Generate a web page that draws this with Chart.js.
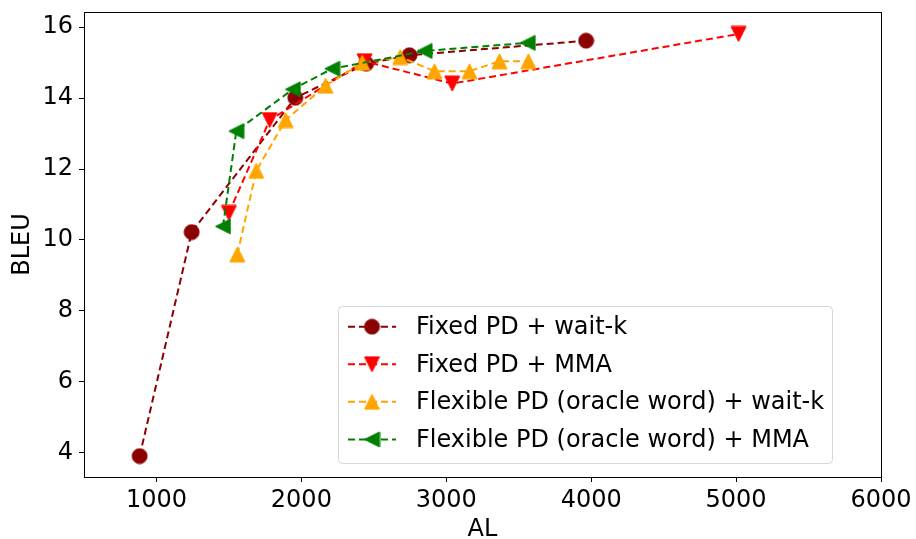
<!DOCTYPE html>
<html>
<head>
<meta charset="utf-8">
<script src="https://cdn.jsdelivr.net/npm/chart.js@4/dist/chart.umd.min.js"></script>
<style>
  html, body { margin: 0; padding: 0; background: #fff; }
  #wrap { width: 916px; height: 539px; position: relative; }
</style>
</head>
<body>
<div id="wrap"><canvas id="c" width="916" height="539"></canvas></div>
<script>
// ---- data ----
const seriesNames = [
  "Fixed PD + wait-k",
  "Fixed PD + MMA",
  "Flexible PD (oracle word) + wait-k",
  "Flexible PD (oracle word) + MMA"
];
const fixedWaitkAL   = [884, 1243, 1958, 2447, 2746, 3965];
const fixedWaitkBLEU = [3.90, 10.22, 14.01, 14.97, 15.21, 15.62];
const fixedMmaAL     = [1500, 1781, 2436, 3041, 5017];
const fixedMmaBLEU   = [10.76, 13.38, 15.04, 14.41, 15.81];
const flexWaitkAL    = [1558, 1689, 1891, 2167, 2420, 2682, 2919, 3160, 3367, 3567];
const flexWaitkBLEU  = [9.59, 11.95, 13.38, 14.35, 15.00, 15.16, 14.76, 14.76, 15.04, 15.04];
const flexMmaAL      = [1459, 1551, 1941, 2213, 2850, 3562];
const flexMmaBLEU    = [10.38, 13.07, 14.25, 14.83, 15.33, 15.56];
const xTicks = [1000, 2000, 3000, 4000, 5000, 6000];
const yTicks = [4, 6, 8, 10, 12, 14, 16];

const colors = ["#8B0000", "#FF0000", "#FFA500", "#008000"];
const markerTypes = ["circle", "down", "up", "left"];

function makeMarker(type, color) {
  const s = 15, pad = 1;
  const n = s + 2 * pad;
  const cv = document.createElement('canvas');
  cv.width = n; cv.height = n;
  const g = cv.getContext('2d');
  g.fillStyle = color; g.strokeStyle = color; g.lineWidth = 1;
  const c = n / 2, h = s / 2;
  g.beginPath();
  if (type === 'circle') {
    g.arc(c, c, h, 0, Math.PI * 2);
  } else if (type === 'up') {
    g.moveTo(c, c - h); g.lineTo(c - h, c + h); g.lineTo(c + h, c + h);
  } else if (type === 'down') {
    g.moveTo(c, c + h); g.lineTo(c - h, c - h); g.lineTo(c + h, c - h);
  } else if (type === 'left') {
    g.moveTo(c - h, c); g.lineTo(c + h, c - h); g.lineTo(c + h, c + h);
  }
  g.closePath();
  g.fill();
  g.stroke();
  return cv;
}
const markers = markerTypes.map((t, i) => makeMarker(t, colors[i]));

function pts(xs, ys) { return xs.map((x, i) => ({ x: x, y: ys[i] })); }
const allData = [
  pts(fixedWaitkAL, fixedWaitkBLEU),
  pts(fixedMmaAL, fixedMmaBLEU),
  pts(flexWaitkAL, flexWaitkBLEU),
  pts(flexMmaAL, flexMmaBLEU)
];

const datasets = allData.map((d, i) => ({
  label: seriesNames[i],
  data: d,
  borderColor: colors[i],
  backgroundColor: colors[i],
  borderWidth: 2,
  borderDash: [7, 4],
  pointStyle: markers[i],
  pointRadius: 8,
  pointHoverRadius: 8,
  tension: 0,
  order: 3 - i,
  showLine: true
}));

const FONT = "'DejaVu Sans', sans-serif";

const framePlugin = {
  id: 'frame',
  afterDatasetsDraw(chart) {
    const { ctx, chartArea: a } = chart;
    ctx.save();
    ctx.strokeStyle = '#000';
    ctx.lineWidth = 1;
    ctx.strokeRect(Math.round(a.left) + 0.5, Math.round(a.top) + 0.5,
                   Math.round(a.right - a.left), Math.round(a.bottom - a.top));
    ctx.restore();
  }
};

const legendPlugin = {
  id: 'mplLegend',
  afterDraw(chart) {
    const { ctx } = chart;
    const bx = 338.5, by = 306.5, bw = 494, bh = 157, r = 4;
    ctx.save();
    ctx.beginPath();
    ctx.moveTo(bx + r, by);
    ctx.lineTo(bx + bw - r, by);
    ctx.arcTo(bx + bw, by, bx + bw, by + r, r);
    ctx.lineTo(bx + bw, by + bh - r);
    ctx.arcTo(bx + bw, by + bh, bx + bw - r, by + bh, r);
    ctx.lineTo(bx + r, by + bh);
    ctx.arcTo(bx, by + bh, bx, by + bh - r, r);
    ctx.lineTo(bx, by + r);
    ctx.arcTo(bx, by, bx + r, by, r);
    ctx.closePath();
    ctx.fillStyle = 'rgba(255,255,255,0.8)';
    ctx.fill();
    ctx.strokeStyle = '#d6d6d6';
    ctx.lineWidth = 1;
    ctx.stroke();
    const rowY = [326.7, 364.3, 401.8, 439.4];
    chart.data.datasets.forEach((ds, i) => {
      const y = rowY[i];
      ctx.beginPath();
      ctx.setLineDash([7, 4]);
      ctx.strokeStyle = ds.borderColor;
      ctx.lineWidth = 2;
      ctx.moveTo(348, y);
      ctx.lineTo(396, y);
      ctx.stroke();
      ctx.setLineDash([]);
      const m = ds.pointStyle;
      ctx.drawImage(m, 372 - m.width / 2, y - m.height / 2);
      ctx.fillStyle = '#000';
      ctx.font = "24px " + FONT;
      ctx.textBaseline = 'middle';
      ctx.textAlign = 'left';
      ctx.fillText(ds.label, 416, y + 1);
    });
    ctx.restore();
  }
};

new Chart(document.getElementById('c'), {
  type: 'line',
  data: { datasets: datasets },
  plugins: [framePlugin, legendPlugin],
  options: {
    responsive: false,
    animation: false,
    events: [],
    layout: { padding: { top: 12, right: 35, left: 0, bottom: 0 } },
    plugins: { legend: { display: false }, tooltip: { enabled: false } },
    scales: {
      x: {
        type: 'linear',
        min: 500, max: 6000,
        afterBuildTicks(s) { s.ticks = xTicks.map(v => ({ value: v })); },
        afterFit(s) { s.height = 62; s.paddingLeft = 0; s.paddingRight = 0; },
        grid: { drawOnChartArea: false, drawTicks: true, tickLength: 5, color: '#000' },
        border: { display: true, color: '#000', width: 1 },
        ticks: { color: '#000', font: { family: FONT, size: 24 }, padding: 4, maxRotation: 0,
                 callback: v => String(v) },
        title: { display: true, text: 'AL', color: '#000', font: { family: FONT, size: 24 },
                 padding: { top: 0, bottom: -5 } }
      },
      y: {
        type: 'linear',
        min: 3.31, max: 16.43,
        afterBuildTicks(s) { s.ticks = yTicks.map(v => ({ value: v })); },
        afterFit(s) { s.width = 84; s.paddingTop = 0; s.paddingBottom = 0; },
        grid: { drawOnChartArea: false, drawTicks: true, tickLength: 5, color: '#000' },
        border: { display: true, color: '#000', width: 1 },
        ticks: { color: '#000', font: { family: FONT, size: 24 }, padding: 6,
                 callback: v => String(v) },
        title: { display: true, text: 'BLEU', color: '#000', font: { family: FONT, size: 24 },
                 padding: { top: 8, bottom: 0 } }
      }
    }
  }
});
</script>
</body>
</html>
